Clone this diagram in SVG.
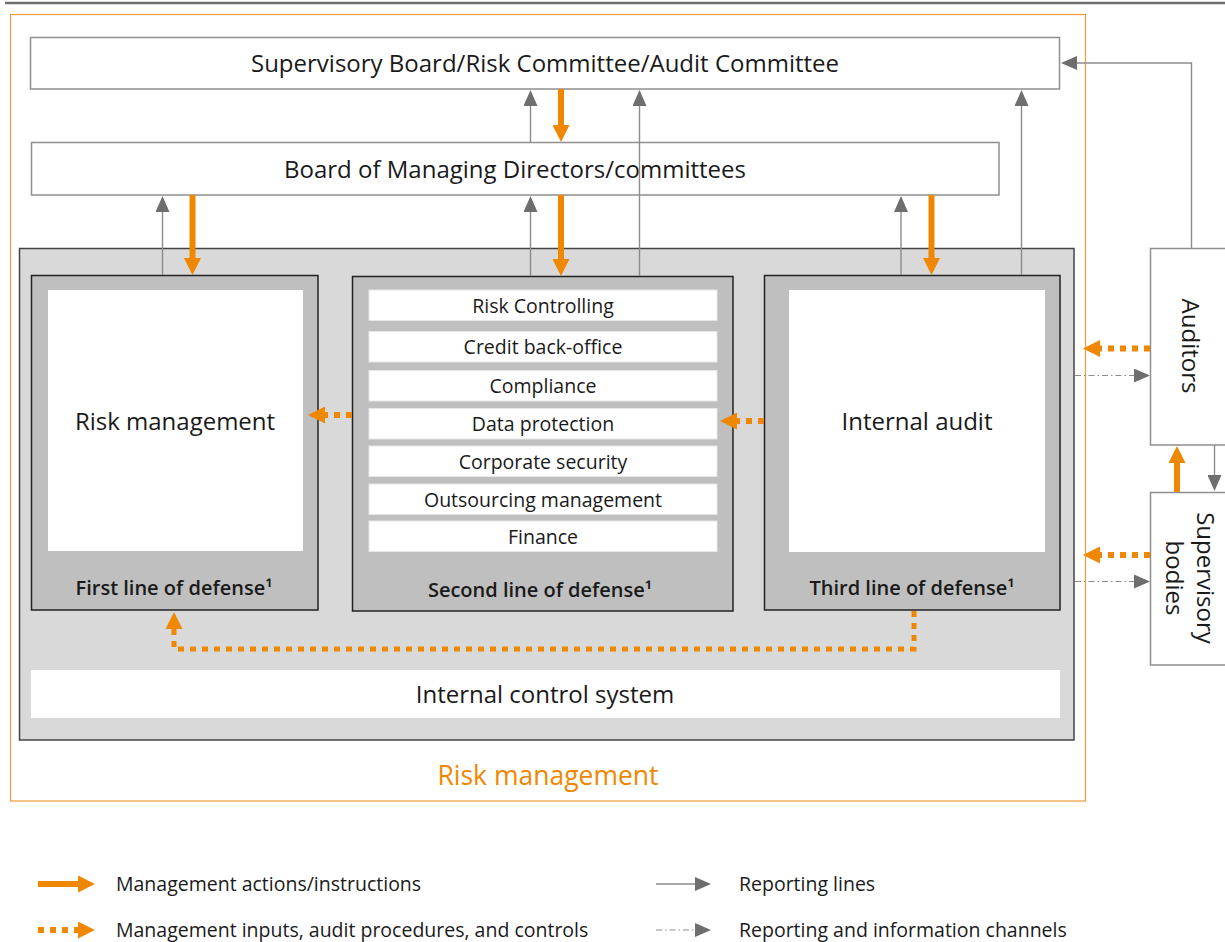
<svg xmlns="http://www.w3.org/2000/svg" width="1225" height="942" viewBox="0 0 1225 942">
<defs>
<style>
text{font-family:"Open Sans","Noto Sans","Liberation Sans",sans-serif;fill:#1a1a1a}
.t22{font-size:24px;text-anchor:middle}
.t18{font-size:19.5px;text-anchor:middle}
.lbl{font-size:20px;font-weight:600;text-anchor:middle}
.leg{font-size:19.5px}
.wbox{fill:#fff;stroke:#8f8f8f;stroke-width:1.5}
.ldef{fill:#bfbfbf;stroke:#222;stroke-width:1.5}
.inner{fill:#fff}
.item{fill:#fff;stroke:#e6e6e6;stroke-width:1}
.rep{fill:none;stroke:#8c8c8c;stroke-width:1.4;marker-end:url(#mg)}
.info{fill:none;stroke:#8c8c8c;stroke-width:1;stroke-dasharray:6 3 1.5 3;marker-end:url(#mg)}
.act{fill:none;stroke:#f08700;stroke-width:6;marker-end:url(#mo)}
.inp{fill:none;stroke:#f08700;stroke-width:6;stroke-dasharray:6 6;marker-end:url(#mo)}
</style>
<marker id="mg" markerUnits="userSpaceOnUse" markerWidth="16" markerHeight="14" refX="1" refY="7" orient="auto" viewBox="0 0 16 14"><path d="M0,0 L16,7 L0,14 z" fill="#6e6e6e"/></marker>
<marker id="mo" markerUnits="userSpaceOnUse" markerWidth="17" markerHeight="17" refX="1" refY="8.5" orient="auto" viewBox="0 0 17 17"><path d="M0,0 L17,8.5 L0,17 z" fill="#f08700"/></marker>
</defs>
<rect width="1225" height="942" fill="#fff"/>
<line x1="5" y1="3" x2="1225" y2="3" stroke="#6f6f6f" stroke-width="2.5"/>
<g id="risk-management-frame">
<rect x="10.5" y="14.5" width="1075" height="786.5" fill="none" stroke="#f39a3a" stroke-width="1.2"/>
<text x="548" y="785" style="font-size:26.5px;text-anchor:middle;fill:#f08700">Risk management</text>
</g>
<g id="supervisory-board">
<rect class="wbox" x="30.5" y="37.5" width="1029" height="51.5"/>
<text class="t22" x="545" y="71.5">Supervisory Board/Risk Committee/Audit Committee</text>
</g>
<g id="board-md">
<rect class="wbox" x="31.5" y="142.5" width="967.5" height="52.5"/>
<text class="t22" x="515" y="177.5">Board of Managing Directors/committees</text>
</g>
<g id="ics-area">
<rect x="19.5" y="248.5" width="1054.5" height="491.5" fill="#d9d9d9" stroke="#444" stroke-width="1.5"/>
</g>
<g id="first-line">
<rect class="ldef" x="31.5" y="275.5" width="286.5" height="334.5"/>
<rect class="inner" x="48" y="290" width="255" height="261"/>
<text class="t22" x="175" y="429.5">Risk management</text>
<text class="lbl" x="174" y="595">First line of defense¹</text>
</g>
<g id="second-line">
<rect class="ldef" x="352.5" y="276.5" width="380.5" height="334.5"/>
<rect class="item" x="369" y="290" width="348" height="30.5"/>
<text class="t18" x="543" y="312.5">Risk Controlling</text>
<rect class="item" x="369" y="331.5" width="348" height="30.5"/>
<text class="t18" x="543" y="354">Credit back-office</text>
<rect class="item" x="369" y="370.5" width="348" height="30.5"/>
<text class="t18" x="543" y="393">Compliance</text>
<rect class="item" x="369" y="408.5" width="348" height="30.5"/>
<text class="t18" x="543" y="431">Data protection</text>
<rect class="item" x="369" y="446" width="348" height="30.5"/>
<text class="t18" x="543" y="469">Corporate security</text>
<rect class="item" x="369" y="484" width="348" height="30.5"/>
<text class="t18" x="543" y="507">Outsourcing management</text>
<rect class="item" x="369" y="521" width="348" height="30.5"/>
<text class="t18" x="543" y="544">Finance</text>
<text class="lbl" x="540" y="597">Second line of defense¹</text>
</g>
<g id="third-line">
<rect class="ldef" x="764.5" y="275.5" width="295.5" height="334.5"/>
<rect class="inner" x="789" y="290" width="256" height="262"/>
<text class="t22" x="917" y="429.5">Internal audit</text>
<text class="lbl" x="912" y="595">Third line of defense¹</text>
</g>
<g id="internal-control-system">
<rect x="31" y="670" width="1029" height="48" fill="#fff"/>
<text class="t22" x="545" y="702.5">Internal control system</text>
</g>
<g id="auditors">
<rect class="wbox" x="1150.5" y="248.5" width="80" height="196.5"/>
<text class="t22" transform="translate(1190,346) rotate(90)" x="0" y="8.5">Auditors</text>
</g>
<g id="supervisory-bodies">
<rect class="wbox" x="1150.5" y="492.5" width="80" height="172.5"/>
<text class="t22" transform="translate(1190,578) rotate(90)"><tspan x="0" y="-6.5">Supervisory</tspan><tspan x="0" y="24">bodies</tspan></text>
</g>
<g id="connectors">
<path class="rep" d="M162.5,275 V211"/>
<path class="rep" d="M530.5,276 V211"/>
<path class="rep" d="M901,275 V211"/>
<path class="rep" d="M530.5,142 V105"/>
<path class="rep" d="M639.5,276 V105"/>
<path class="rep" d="M1021.5,275 V105"/>
<path class="rep" d="M1191.5,248 V63 H1076"/>
<path class="rep" d="M1214.5,445 V476"/>
<path class="act" d="M561,89 V126"/>
<path class="act" d="M192.5,195 V259"/>
<path class="act" d="M561,195 V260"/>
<path class="act" d="M931.5,195 V259"/>
<path class="act" d="M1177,492 V462"/>
<path class="inp" d="M1150,348.5 H1099"/>
<path class="inp" d="M1150,555 H1099"/>
<path class="inp" d="M352,415 H324"/>
<path class="inp" d="M764,421 H736"/>
<path class="inp" style="stroke-width:5" d="M914,611 V649 H174 V628"/>
<path class="info" d="M1075,375.5 H1135"/>
<path class="info" d="M1075,581.5 H1135"/>
</g>
<g id="legend">
<path class="act" d="M38,884 H79"/>
<text class="leg" x="116" y="891">Management actions/instructions</text>
<path class="inp" d="M38,930 H79"/>
<text class="leg" x="116" y="937">Management inputs, audit procedures, and controls</text>
<path class="rep" d="M656,884 H696"/>
<text class="leg" x="739" y="891">Reporting lines</text>
<path class="info" d="M656,930 H696"/>
<text class="leg" x="739" y="937">Reporting and information channels</text>
</g>
</svg>
